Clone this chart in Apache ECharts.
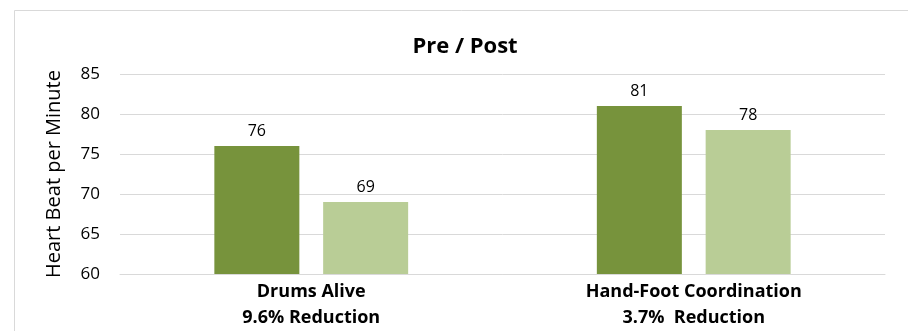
<!DOCTYPE html>
<html>
<head>
<meta charset="utf-8">
<style>
  html, body { margin: 0; padding: 0; background: #fff; }
  #chart { width: 908px; height: 331px; }
</style>
<script src="https://cdn.jsdelivr.net/npm/echarts@6/dist/echarts.min.js"></script>
</head>
<body>
<div id="chart"></div>
<script>
// Categories (two-line axis labels) and the pre/post heart-rate values
const categories = ['Drums Alive\n9.6% Reduction', 'Hand-Foot Coordination\n3.7%  Reduction'];
const preValues = [76, 81];
const postValues = [69, 78];
const yTicks = { min: 60, max: 85, step: 5 };

const FONT = 'Open Sans, Lato, sans-serif';

const chart = echarts.init(document.getElementById('chart'), null, { renderer: 'canvas' });

chart.setOption({
  animation: false,
  backgroundColor: '#ffffff',
  graphic: [{
    type: 'rect',
    left: 12, top: 8,
    shape: { width: 1000, height: 400 },
    style: { fill: 'none', stroke: '#d9d9d9', lineWidth: 1 },
    silent: true
  }],
  title: {
    text: 'Pre / Post',
    left: 460, top: 31,
    textAlign: 'center',
    textStyle: { fontFamily: FONT, fontWeight: 'bold', fontSize: 22, color: '#000' }
  },
  grid: { left: 120, right: 23, top: 74, bottom: 53 },
  xAxis: {
    type: 'category',
    data: categories,
    axisLine: { show: true, lineStyle: { color: '#d9d9d9', width: 1 } },
    axisTick: { show: false },
    axisLabel: {
      fontFamily: FONT, fontWeight: 'bold', fontSize: 18, color: '#000',
      lineHeight: 26, margin: 5, interval: 0
    }
  },
  yAxis: {
    type: 'value',
    min: yTicks.min, max: yTicks.max, interval: yTicks.step,
    name: 'Heart Beat per Minute',
    nameLocation: 'middle',
    nameGap: 56,
    nameTextStyle: { fontFamily: FONT, fontSize: 20, color: '#000' },
    axisLine: { show: false },
    axisTick: { show: false },
    axisLabel: { fontFamily: FONT, fontSize: 17, color: '#000', margin: 20 },
    splitLine: { lineStyle: { color: '#d9d9d9', width: 1 } }
  },
  series: [
    {
      name: 'Pre', type: 'bar', data: preValues,
      barWidth: 85, barGap: '28%',
      itemStyle: { color: '#77933c' },
      label: { show: true, position: 'top', distance: 7, fontFamily: FONT, fontSize: 16, color: '#000' }
    },
    {
      name: 'Post', type: 'bar', data: postValues,
      barWidth: 85,
      itemStyle: { color: '#b9cd96' },
      label: { show: true, position: 'top', distance: 7, fontFamily: FONT, fontSize: 16, color: '#000' }
    }
  ]
});
</script>
</body>
</html>
